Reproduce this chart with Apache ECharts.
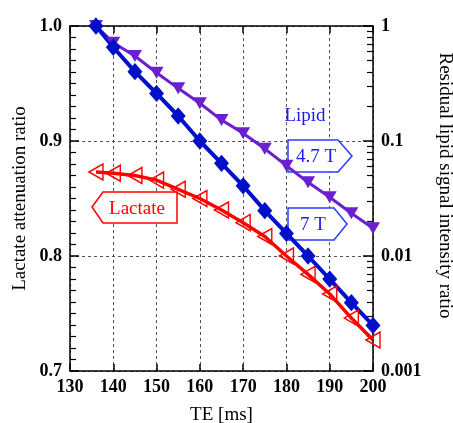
<!DOCTYPE html>
<html>
<head>
<meta charset="utf-8">
<script src="https://cdn.jsdelivr.net/npm/echarts@6/dist/echarts.min.js"></script>
<style>html,body{margin:0;padding:0;background:#fff}#c{width:453px;height:423px}</style>
</head>
<body>
<div id="c"></div>
<script>
// ---- data ----
const teValues = [136, 140, 145, 150, 155, 160, 165, 170, 175, 180, 185, 190, 195, 200];
const lactateRatio = [0.873, 0.872, 0.870, 0.866, 0.858, 0.850, 0.840, 0.829, 0.817, 0.800, 0.784, 0.767, 0.746, 0.727];
const lipid7T = [1.0, 0.653, 0.401, 0.259, 0.165, 0.100, 0.064, 0.0408, 0.0248, 0.0157, 0.0100, 0.0063, 0.00393, 0.00249];
const lipid47T = [1.0, 0.716, 0.548, 0.392, 0.287, 0.213, 0.152, 0.117, 0.0857, 0.061, 0.0437, 0.0324, 0.0235, 0.0174];
const xTicks = [130, 140, 150, 160, 170, 180, 190, 200];
const leftTicks = [0.7, 0.8, 0.9, 1.0];
const rightTicks = [0.001, 0.01, 0.1, 1];
const rightMinor = [2, 3, 4, 5, 6, 7, 8, 9];

const FONT = '"Liberation Serif", "Times New Roman", serif';
const pair = (xs, ys) => xs.map((x, i) => [x, ys[i]]);
const logMinor = [];
for (let d = -3; d < 0; d++) rightMinor.forEach(m => logMinor.push(Math.log10(m) + d));

const chart = echarts.init(document.getElementById('c'), null, {renderer: 'canvas'});
const tickLabel = {fontFamily: FONT, fontSize: 18, color: '#000', fontWeight: 'bold'};
const grid = {left: 70, right: 80, top: 26, bottom: 52, containLabel: false, outerBoundsMode: 'none'};

chart.setOption({
  backgroundColor: '#fff',
  animation: false,
  grid: grid,
  xAxis: [{
    type: 'value', min: xTicks[0], max: xTicks[xTicks.length - 1], interval: 10,
    position: 'bottom',
    name: 'TE [ms]', nameLocation: 'middle', nameGap: 35, nameMoveOverlap: false,
    nameTextStyle: {fontFamily: FONT, fontSize: 19, color: '#000'},
    axisLine: {onZero: false, lineStyle: {color: '#000', width: 1.5}},
    axisTick: {inside: true, length: 7, lineStyle: {color: '#000', width: 1.5}},
    axisLabel: Object.assign({margin: 7}, tickLabel),
    splitLine: {show: true, lineStyle: {color: '#555', type: [3, 3], width: 1}}
  }, {
    type: 'value', min: xTicks[0], max: xTicks[xTicks.length - 1], interval: 10,
    position: 'top',
    axisLine: {onZero: false, lineStyle: {color: '#000', width: 1.5}},
    axisTick: {inside: true, length: 7, lineStyle: {color: '#000', width: 1.5}},
    axisLabel: {show: false},
    splitLine: {show: false}
  }],
  yAxis: [{
    type: 'value', min: leftTicks[0], max: leftTicks[leftTicks.length - 1], interval: 0.1,
    position: 'left',
    name: 'Lactate attenuation ratio', nameLocation: 'middle', nameGap: 40, nameMoveOverlap: false,
    nameTextStyle: {fontFamily: FONT, fontSize: 19, color: '#000'},
    axisLine: {onZero: false, lineStyle: {color: '#000', width: 1.5}},
    axisTick: {inside: true, length: 9, lineStyle: {color: '#000', width: 1.5}},
    minorTick: {show: true, splitNumber: 10, length: 6, lineStyle: {color: '#000', width: 1.2}},
    axisLabel: Object.assign({margin: 8, formatter: v => v.toFixed(1)}, tickLabel),
    splitLine: {show: true, lineStyle: {color: '#555', type: [3, 3], width: 1}}
  }, {
    type: 'log', logBase: 10, min: rightTicks[0], max: rightTicks[rightTicks.length - 1],
    position: 'right',
    name: 'Residual lipid signal intensity ratio', nameLocation: 'middle', nameGap: 62, nameRotate: -90,
    nameMoveOverlap: false,
    nameTextStyle: {fontFamily: FONT, fontSize: 19, color: '#000', padding: [0, 26, 0, 0]},
    axisLine: {onZero: false, lineStyle: {color: '#000', width: 1.5}},
    axisTick: {inside: true, length: 10, lineStyle: {color: '#000', width: 1.5}},
    axisLabel: Object.assign({margin: 8, formatter: v => String(+v.toPrecision(1))}, tickLabel),
    splitLine: {show: false}
  }, {
    type: 'value', min: -3, max: 0,
    position: 'right',
    axisLine: {show: false},
    axisTick: {inside: true, length: 6, customValues: logMinor, lineStyle: {color: '#000', width: 1.2}},
    axisLabel: {show: false},
    splitLine: {show: false}
  }],
  graphic: [
    {type: 'text', z: 1, style: {text: 'Lipid', x: 305, y: 116, align: 'center', verticalAlign: 'middle', font: '19px ' + FONT, fill: '#1a1aee'}},
    {type: 'polygon', z: 1, shape: {points: [[288, 140], [338, 140], [352, 156], [338, 172], [288, 172]]}, style: {fill: '#fff', stroke: '#2a3cff', lineWidth: 1.5}},
    {type: 'text', z: 1, style: {text: '4.7 T', x: 316, y: 157, align: 'center', verticalAlign: 'middle', font: '19px ' + FONT, fill: '#1a1aee'}},
    {type: 'polygon', z: 1, shape: {points: [[288, 208], [334, 208], [347, 224], [334, 240], [288, 240]]}, style: {fill: '#fff', stroke: '#2a3cff', lineWidth: 1.5}},
    {type: 'text', z: 1, style: {text: '7 T', x: 313, y: 225, align: 'center', verticalAlign: 'middle', font: '19px ' + FONT, fill: '#1a1aee'}},
    {type: 'polygon', z: 1, shape: {points: [[92, 207], [103, 192], [177, 192], [177, 223], [103, 223]]}, style: {fill: '#fff', stroke: '#ff0000', lineWidth: 1.5}},
    {type: 'text', z: 1, style: {text: 'Lactate', x: 137, y: 209, align: 'center', verticalAlign: 'middle', font: '19px ' + FONT, fill: '#ff0000'}}
  ],
  series: [{
    name: 'Lipid 4.7 T', type: 'line', xAxisIndex: 0, yAxisIndex: 1,
    data: pair(teValues, lipid47T),
    symbol: 'triangle', symbolRotate: 180, symbolSize: [14, 12],
    lineStyle: {color: '#6a1fd0', width: 3},
    itemStyle: {color: '#6a1fd0'}
  }, {
    name: 'Lipid 7 T', type: 'line', xAxisIndex: 0, yAxisIndex: 1,
    data: pair(teValues, lipid7T),
    symbol: 'diamond', symbolSize: [13, 15],
    lineStyle: {color: '#0010c8', width: 4},
    itemStyle: {color: '#0010c8', borderColor: '#0010c8', borderWidth: 1.5}
  }, {
    name: 'Lactate', type: 'line', xAxisIndex: 0, yAxisIndex: 0,
    data: pair(teValues, lactateRatio),
    symbol: 'triangle', symbolRotate: 90, symbolSize: [16, 14],
    lineStyle: {color: '#ff0000', width: 3.5},
    itemStyle: {color: 'rgba(255,255,255,0)', borderColor: '#ff0000', borderWidth: 1.5}
  }]
});
</script>
</body>
</html>
